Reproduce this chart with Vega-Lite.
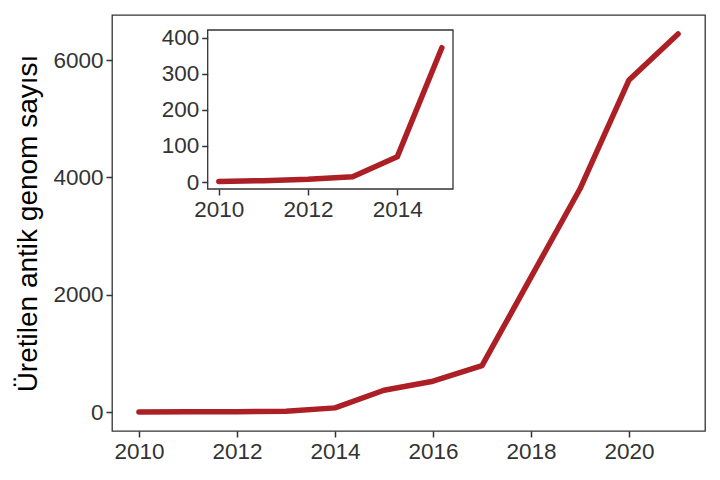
{
  "$schema": "https://vega.github.io/schema/vega-lite/v6.json",
  "width": 593,
  "height": 416,
  "autosize": {"type": "none"},
  "padding": {"left": 112, "top": 15, "right": 15, "bottom": 49},
  "background": "white",
  "config": {
    "view": {"stroke": "#333333", "strokeWidth": 1.3},
    "font": "Liberation Sans",
    "axis": {
      "grid": false,
      "labelFont": "Liberation Sans",
      "labelFontSize": 22.5,
      "labelColor": "#333333",
      "tickColor": "#333333",
      "tickSize": 6,
      "tickWidth": 1.5,
      "domainColor": "#333333",
      "labelPadding": 3,
      "titleFont": "Liberation Sans",
      "titleFontWeight": "normal",
      "titleColor": "#000000"
    }
  },
  "datasets": {
    "main": [
      {"year": 2010, "genomes": 2},
      {"year": 2011, "genomes": 4},
      {"year": 2012, "genomes": 8},
      {"year": 2013, "genomes": 15},
      {"year": 2014, "genomes": 72},
      {"year": 2015, "genomes": 372},
      {"year": 2016, "genomes": 526},
      {"year": 2017, "genomes": 792},
      {"year": 2018, "genomes": 2300},
      {"year": 2019, "genomes": 3806},
      {"year": 2020, "genomes": 5660},
      {"year": 2021, "genomes": 6445}
    ],
    "inset": [
      {"year": 2010, "genomes": 2},
      {"year": 2011, "genomes": 4},
      {"year": 2012, "genomes": 8},
      {"year": 2013, "genomes": 15},
      {"year": 2014, "genomes": 70},
      {"year": 2015, "genomes": 372}
    ],
    "frame": [{"box": "inset"}]
  },
  "layer": [
    {
      "data": {"name": "main"},
      "mark": {"type": "line", "color": "#AC1F25", "strokeWidth": 5.5, "strokeCap": "round", "strokeJoin": "round"},
      "encoding": {
        "x": {
          "field": "year", "type": "quantitative",
          "scale": {"domain": [2009.45, 2021.55], "nice": false, "zero": false},
          "axis": {"values": [2010, 2012, 2014, 2016, 2018, 2020], "format": "d", "title": null, "domain": false}
        },
        "y": {
          "field": "genomes", "type": "quantitative",
          "scale": {"domain": [-322, 6767], "nice": false, "zero": false},
          "axis": {"values": [0, 2000, 4000, 6000], "format": "d", "title": "Üretilen antik genom sayısı", "titleFontSize": 28, "titlePadding": 10, "domain": false}
        }
      }
    },
    {
      "layer": [
        {
          "data": {"name": "frame"},
          "mark": {"type": "rect", "fill": "white", "fillOpacity": 0, "stroke": "#333333", "strokeWidth": 1.3},
          "encoding": {
            "x": {"datum": 2009.75},
            "x2": {"datum": 2015.25},
            "y": {"datum": -19},
            "y2": {"datum": 421}
          }
        },
        {
          "data": {"name": "inset"},
          "mark": {"type": "line", "color": "#AC1F25", "strokeWidth": 5.5, "strokeCap": "round", "strokeJoin": "round"},
          "encoding": {
            "x": {
              "field": "year", "type": "quantitative",
              "scale": {"domain": [2009.75, 2015.25], "range": [95.7, 341], "nice": false, "zero": false},
              "axis": {"orient": "bottom", "offset": -242, "values": [2010, 2012, 2014], "format": "d", "title": null, "domain": false}
            },
            "y": {
              "field": "genomes", "type": "quantitative",
              "scale": {"domain": [-19, 421], "range": [174, 15], "nice": false, "zero": false},
              "axis": {"orient": "left", "offset": -95.7, "values": [0, 100, 200, 300, 400], "format": "d", "title": null, "domain": false}
            }
          }
        }
      ]
    }
  ],
  "resolve": {
    "scale": {"x": "independent", "y": "independent"},
    "axis": {"x": "independent", "y": "independent"}
  }
}
